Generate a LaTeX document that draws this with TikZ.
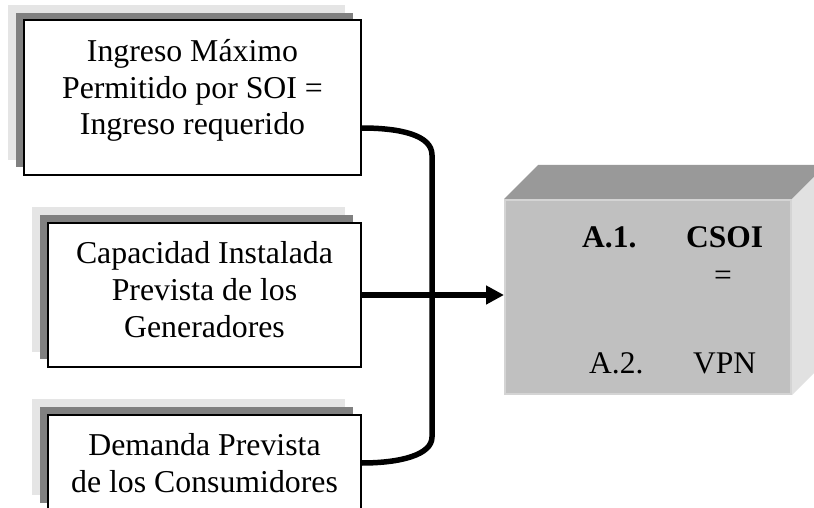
\documentclass[tikz,border=0pt]{standalone}
\usepackage{fontspec}
\setmainfont{Liberation Serif}
\usetikzlibrary{arrows.meta,calc}
\definecolor{shadowlight}{HTML}{E5E5E5}
\definecolor{shadowdark}{HTML}{808080}
\definecolor{cubefront}{HTML}{C0C0C0}
\definecolor{cubeedge}{HTML}{D4D4D4}
\definecolor{cubetop}{HTML}{999999}
\definecolor{cubeside}{HTML}{E1E1E1}
\tikzset{
  lightsh/.style={fill=shadowlight,draw=none},
  darksh/.style={fill=shadowdark,draw=none},
  frontbox/.style={draw=black,line width=1.2pt,fill=white,inner sep=0pt},
  boxtext/.style={align=center,inner sep=0pt,font=\fontsize{31.8}{36.8}\selectfont,anchor=base},
  cubetext/.style={inner sep=0pt,font=\fontsize{31.5}{37}\selectfont,anchor=base west},
  conn/.style={line width=5.5pt,draw=black},
}
\begin{document}
\begin{tikzpicture}[x=1pt,y=-1pt]
\clip (0,0) rectangle (814,508);
\fill[white] (0,0) rectangle (814,508);
% box 1
\fill[lightsh] (8,5) rectangle (345,160);
\fill[darksh] (16,13) rectangle (353,167);
\node[frontbox,minimum width=337pt,minimum height=155pt] (b1) at (192.5,97.5) {};
\node[boxtext] (t1) at (192.5,135) {Ingreso Máximo\\Permitido por SOI =\\Ingreso requerido};
% box 2
\fill[lightsh] (32,207) rectangle (345,352);
\fill[darksh] (40,215) rectangle (353,359);
\node[frontbox,minimum width=313pt,minimum height=144pt] (b2) at (204.5,295) {};
\node[boxtext] (t2) at (204.5,337) {Capacidad Instalada\\Prevista de los\\Generadores};
% box 3
\fill[lightsh] (32,399) rectangle (345,495);
\fill[darksh] (40,407) rectangle (353,503);
\node[frontbox,minimum width=313pt,minimum height=96pt] (b3) at (204.5,463) {};
\node[boxtext] (t3) at (204.5,492) {Demanda Prevista\\de los Consumidores};
% cube
\fill[cubetop] (504,199) -- (538,165) -- (826,165) -- (792,199) -- cycle;
\fill[cubeside] (792,199) -- (826,165) -- (826,361) -- (792,395) -- cycle;
\node[fill=cubefront,draw=cubeedge,line width=2pt,minimum width=286pt,minimum height=194pt,inner sep=0pt] (cube) at (648,297) {};
\node[cubetext] (a1) at (582,247) {\bfseries A.1.};
\node[cubetext] (csoi) at (686,247) {\bfseries CSOI};
\node[cubetext,anchor=base] (eq) at (723,285) {=};
\node[cubetext] (a2) at (589,373) {A.2.};
\node[cubetext] (vpn) at (693,373) {VPN};
% connectors
\coordinate (top) at (432,155);
\coordinate (bot) at (432,437);
\draw[conn] ([yshift=-30.5pt]b1.east) .. controls (400,128) and (432,135) .. (top) -- (bot)
  .. controls (432,455) and (400,463) .. (b3.east);
\draw[conn,-{Triangle[length=18pt,width=18pt]}] (b2.east) -- (b2.east -| cube.west);
\end{tikzpicture}
\end{document}
